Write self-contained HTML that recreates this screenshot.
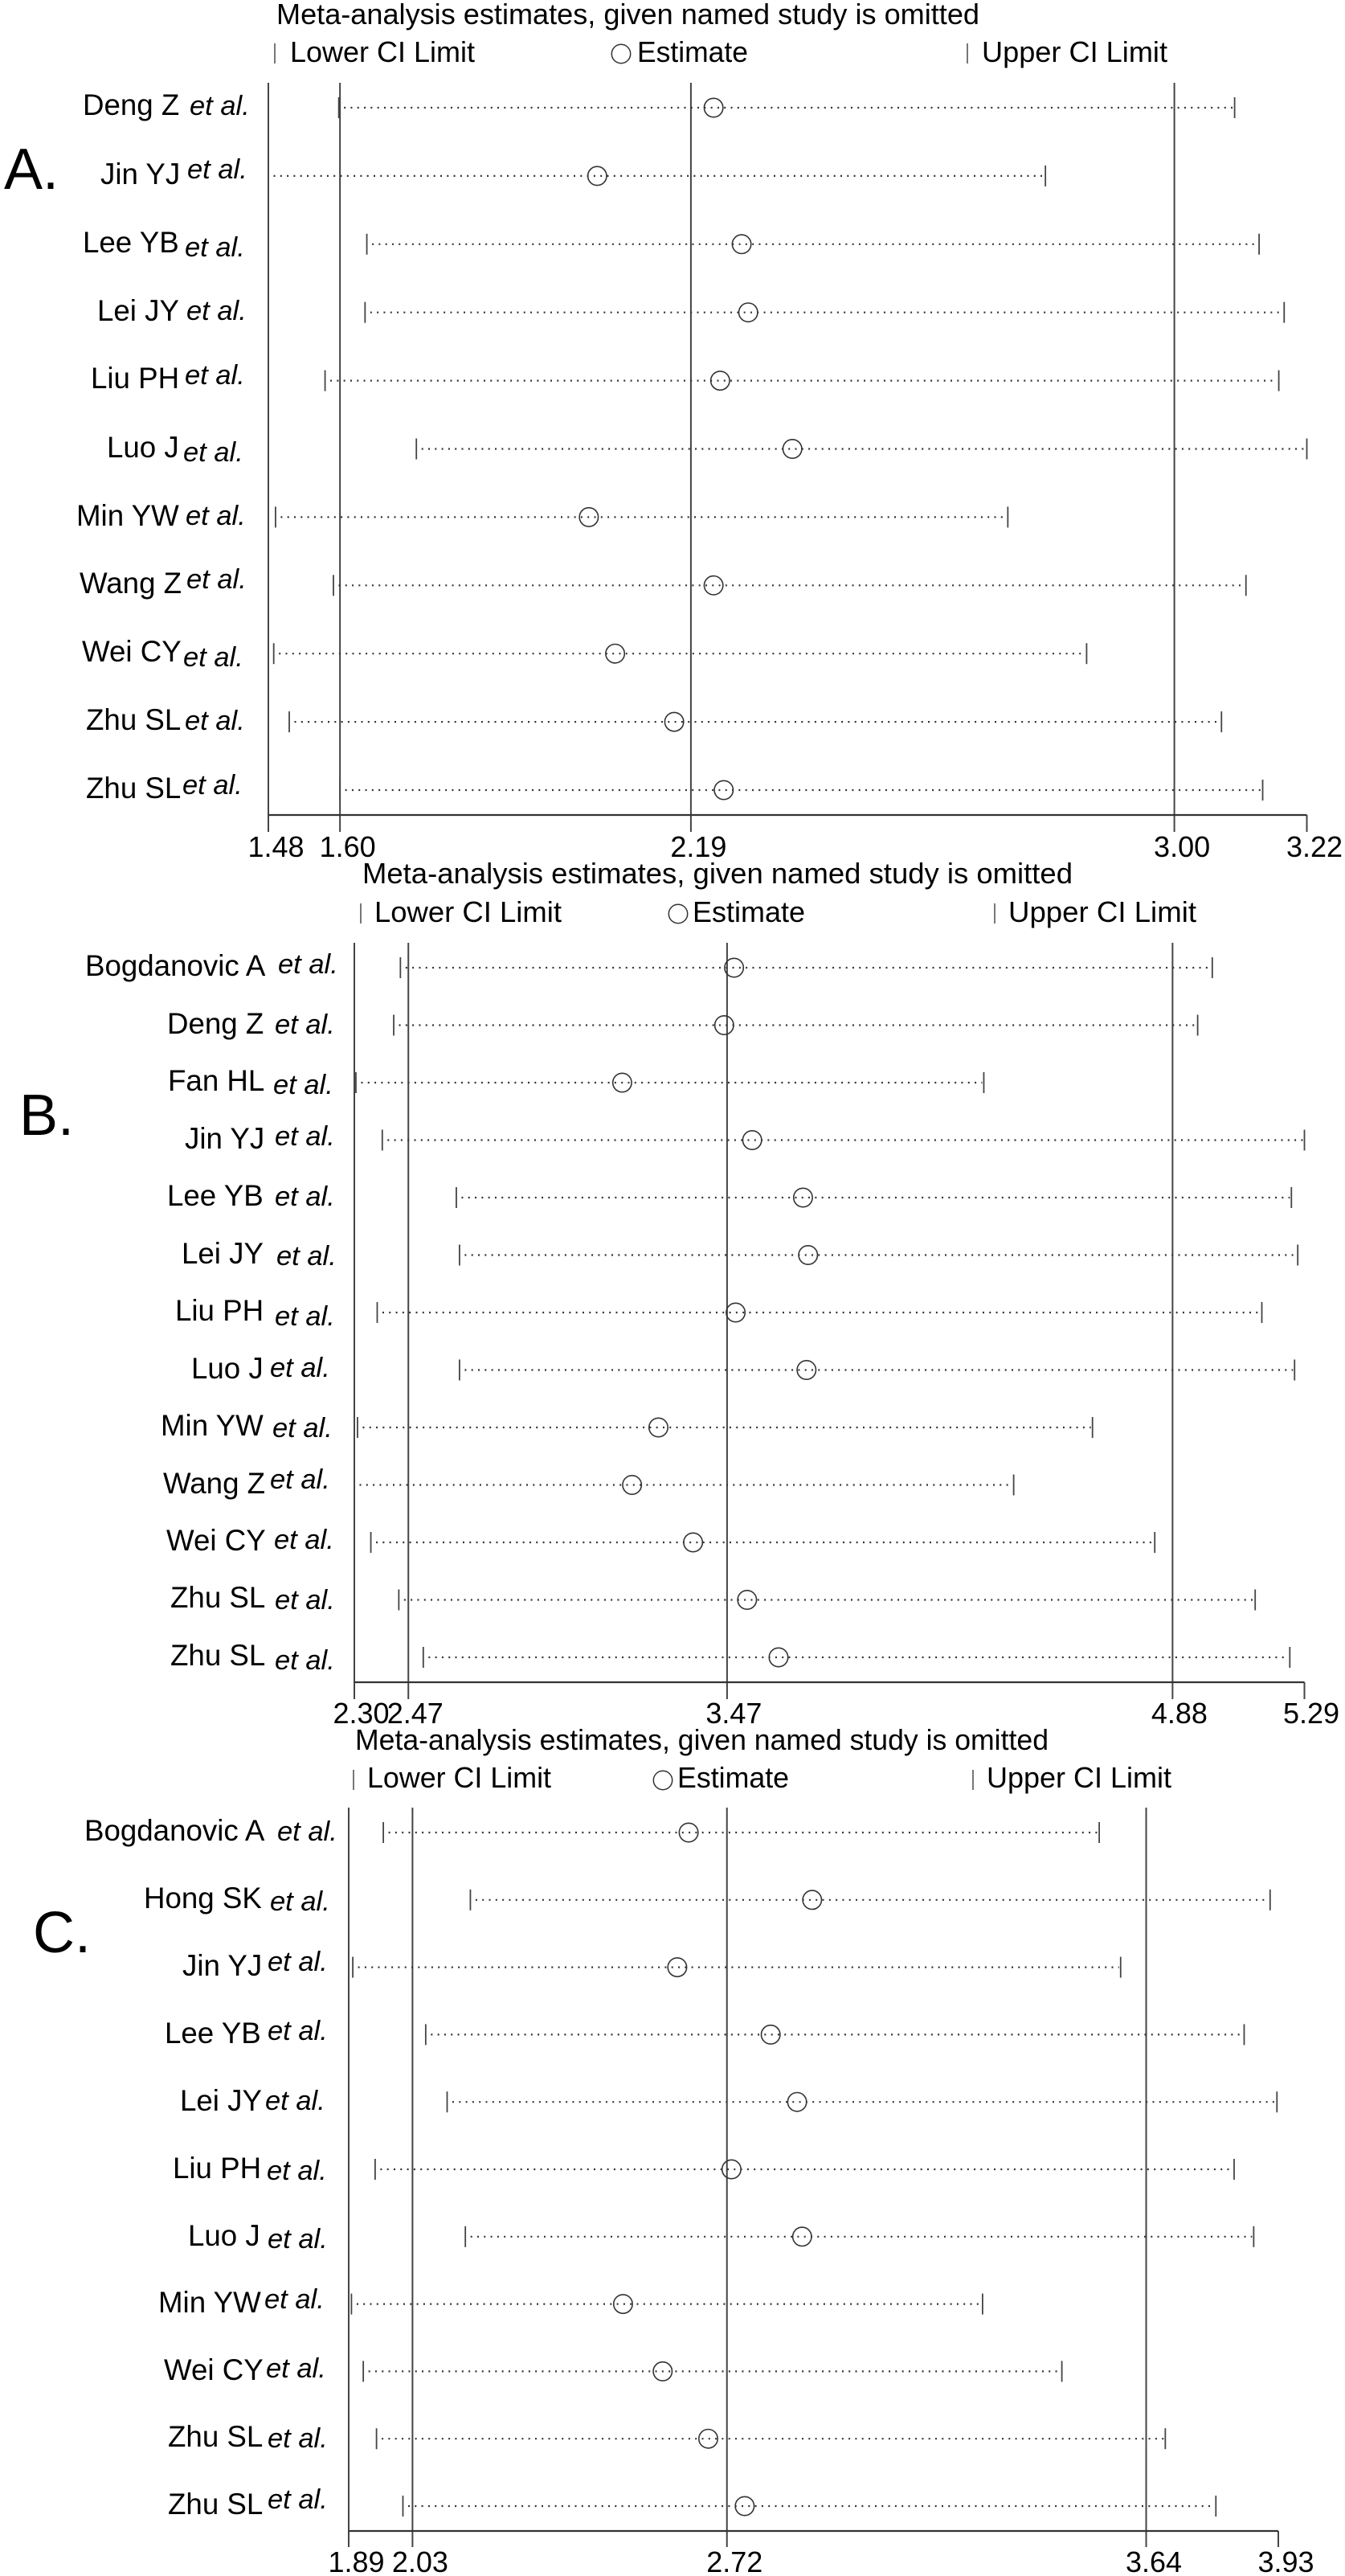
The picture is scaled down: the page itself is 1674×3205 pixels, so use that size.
<!DOCTYPE html>
<html lang="en">
<head>
<meta charset="utf-8">
<title>Meta-analysis sensitivity plots</title>
<style>
html,body{margin:0;padding:0;background:#fff;}
svg{display:block;}
text{font-family:"Liberation Sans",Arial,sans-serif;fill:#000;}
.n{font-size:36.7px;}
.e{font-size:34.5px;font-style:italic;}
.p{font-size:72px;}
.t{font-size:36px;}
</style>
</head>
<body>
<svg id="chart" xmlns="http://www.w3.org/2000/svg" width="1674" height="3205" viewBox="0 0 1674 3205">
<rect x="0" y="0" width="1674" height="3205" fill="#fff"/>

<g>
<text class="p" x="5" y="235">A.</text>
<text class="t" x="344" y="30" textLength="875" lengthAdjust="spacingAndGlyphs">Meta-analysis estimates, given named study is omitted</text>
<text class="t" x="361" y="77" textLength="230" lengthAdjust="spacingAndGlyphs">Lower CI Limit</text>
<text class="t" x="793" y="77" textLength="138" lengthAdjust="spacingAndGlyphs">Estimate</text>
<text class="t" x="1222" y="77" textLength="231" lengthAdjust="spacingAndGlyphs">Upper CI Limit</text>
<text class="n" x="103" y="143">Deng Z</text><text class="e" x="236" y="143">et al.</text>
<text class="n" x="125" y="229">Jin YJ</text><text class="e" x="233" y="222">et al.</text>
<text class="n" x="103" y="314">Lee YB</text><text class="e" x="230" y="319">et al.</text>
<text class="n" x="121" y="399">Lei JY</text><text class="e" x="232" y="398">et al.</text>
<text class="n" x="113" y="483">Liu PH</text><text class="e" x="230" y="478">et al.</text>
<text class="n" x="133" y="569">Luo J</text><text class="e" x="228" y="574">et al.</text>
<text class="n" x="95" y="654">Min YW</text><text class="e" x="231" y="653">et al.</text>
<text class="n" x="99" y="738">Wang Z</text><text class="e" x="232" y="732">et al.</text>
<text class="n" x="102" y="823">Wei CY</text><text class="e" x="228" y="829">et al.</text>
<text class="n" x="107" y="908">Zhu SL</text><text class="e" x="230" y="908">et al.</text>
<text class="n" x="107" y="993">Zhu SL</text><text class="e" x="227" y="988">et al.</text>
</g>

<g>
<text class="p" x="24" y="1412">B.</text>
<text class="t" x="451" y="1099" textLength="884" lengthAdjust="spacingAndGlyphs">Meta-analysis estimates, given named study is omitted</text>
<text class="t" x="466" y="1147" textLength="233" lengthAdjust="spacingAndGlyphs">Lower CI Limit</text>
<text class="t" x="862" y="1147" textLength="140" lengthAdjust="spacingAndGlyphs">Estimate</text>
<text class="t" x="1255" y="1147" textLength="234" lengthAdjust="spacingAndGlyphs">Upper CI Limit</text>
<text class="n" x="106" y="1214">Bogdanovic A</text><text class="e" x="346" y="1211">et al.</text>
<text class="n" x="208" y="1286">Deng Z</text><text class="e" x="342" y="1286">et al.</text>
<text class="n" x="209" y="1357">Fan HL</text><text class="e" x="340" y="1361">et al.</text>
<text class="n" x="230" y="1429">Jin YJ</text><text class="e" x="342" y="1425">et al.</text>
<text class="n" x="208" y="1500">Lee YB</text><text class="e" x="342" y="1500">et al.</text>
<text class="n" x="226" y="1572">Lei JY</text><text class="e" x="344" y="1574">et al.</text>
<text class="n" x="218" y="1643">Liu PH</text><text class="e" x="342" y="1649">et al.</text>
<text class="n" x="238" y="1715">Luo J</text><text class="e" x="336" y="1713">et al.</text>
<text class="n" x="200" y="1786">Min YW</text><text class="e" x="339" y="1788">et al.</text>
<text class="n" x="203" y="1858">Wang Z</text><text class="e" x="336" y="1852">et al.</text>
<text class="n" x="207" y="1929">Wei CY</text><text class="e" x="341" y="1927">et al.</text>
<text class="n" x="212" y="2000">Zhu SL</text><text class="e" x="342" y="2002">et al.</text>
<text class="n" x="212" y="2072">Zhu SL</text><text class="e" x="342" y="2077">et al.</text>
</g>

<g>
<text class="p" x="41" y="2429">C.</text>
<text class="t" x="442" y="2177" textLength="863" lengthAdjust="spacingAndGlyphs">Meta-analysis estimates, given named study is omitted</text>
<text class="t" x="457" y="2224" textLength="229" lengthAdjust="spacingAndGlyphs">Lower CI Limit</text>
<text class="t" x="843" y="2224" textLength="139" lengthAdjust="spacingAndGlyphs">Estimate</text>
<text class="t" x="1228" y="2224" textLength="230" lengthAdjust="spacingAndGlyphs">Upper CI Limit</text>
<text class="n" x="105" y="2290">Bogdanovic A</text><text class="e" x="345" y="2290">et al.</text>
<text class="n" x="179" y="2374">Hong SK</text><text class="e" x="336" y="2377">et al.</text>
<text class="n" x="227" y="2458">Jin YJ</text><text class="e" x="333" y="2452">et al.</text>
<text class="n" x="205" y="2542">Lee YB</text><text class="e" x="333" y="2538">et al.</text>
<text class="n" x="224" y="2626">Lei JY</text><text class="e" x="330" y="2625">et al.</text>
<text class="n" x="215" y="2710">Liu PH</text><text class="e" x="332" y="2712">et al.</text>
<text class="n" x="234" y="2794">Luo J</text><text class="e" x="333" y="2797">et al.</text>
<text class="n" x="197" y="2877">Min YW</text><text class="e" x="329" y="2872">et al.</text>
<text class="n" x="204" y="2961">Wei CY</text><text class="e" x="331" y="2958">et al.</text>
<text class="n" x="209" y="3044">Zhu SL</text><text class="e" x="333" y="3045">et al.</text>
<text class="n" x="209" y="3128">Zhu SL</text><text class="e" x="333" y="3121">et al.</text>
</g>
</svg>

<script>
// Panel A data
var lowerA = [1.598, 1.480, 1.645, 1.642, 1.575, 1.728, 1.492, 1.589, 1.489, 1.515, 1.600];
var estimateA = [2.226, 2.031, 2.273, 2.284, 2.237, 2.358, 2.017, 2.226, 2.061, 2.160, 2.243];
var upperA = [3.099, 2.782, 3.140, 3.182, 3.173, 3.220, 2.719, 3.118, 2.851, 3.077, 3.146];
var ticksA = [1.48, 1.60, 2.188, 2.998, 3.22];
var tickLabelsA = ['1.48', '1.60', '2.19', '3.00', '3.22'];

// Panel B data
var lowerB = [2.445, 2.424, 2.305, 2.388, 2.621, 2.631, 2.372, 2.631, 2.310, 2.300, 2.352, 2.440, 2.517];
var estimateB = [3.495, 3.464, 3.143, 3.552, 3.712, 3.728, 3.500, 3.723, 3.257, 3.174, 3.366, 3.536, 3.635];
var upperB = [5.000, 4.954, 4.281, 5.290, 5.249, 5.269, 5.156, 5.259, 4.623, 4.375, 4.819, 5.135, 5.244];
var ticksB = [2.30, 2.47, 3.473, 4.875, 5.29];
var tickLabelsB = ['2.30', '2.47', '3.47', '4.88', '5.29'];

// Panel C data
var lowerC = [1.966, 2.157, 1.899, 2.059, 2.106, 1.948, 2.146, 1.896, 1.922, 1.951, 2.009];
var estimateC = [2.636, 2.907, 2.611, 2.816, 2.874, 2.730, 2.885, 2.492, 2.579, 2.679, 2.759];
var upperC = [3.537, 3.912, 3.584, 3.855, 3.927, 3.833, 3.876, 3.281, 3.455, 3.682, 3.793];
var ticksC = [1.89, 2.03, 2.72, 3.64, 3.93];
var tickLabelsC = ['1.89', '2.03', '2.72', '3.64', '3.93'];

var NS = 'http://www.w3.org/2000/svg';
var svg = document.getElementById('chart');
var INK = '#333';

function mk(parent, tag, attrs) {
  var el = document.createElementNS(NS, tag);
  for (var k in attrs) el.setAttribute(k, attrs[k]);
  parent.appendChild(el);
  return el;
}

function drawPanel(p) {
  var span = p.ticks[p.ticks.length - 1] - p.ticks[0];
  var xScale = function (v) { return p.xLeft + (v - p.ticks[0]) * (p.xRight - p.xLeft) / span; };
  var yScale = function (i) { return p.rowTop + i * p.rowStep; };

  var g = mk(svg, 'g', {});
  
  

  // legend glyphs
  var lt = mk(g, 'line', {x1: p.legend[0], x2: p.legend[0], y1: p.legendY - 12, y2: p.legendY + 13, stroke: '#555', 'stroke-width': 1.6});
  
  
  var lc = mk(g, 'circle', {cx: p.legend[1], cy: p.legendY + 1, r: 11.7, fill: 'none', stroke: INK, 'stroke-width': 1.5});
  
  
  var lu = mk(g, 'line', {x1: p.legend[2], x2: p.legend[2], y1: p.legendY - 12, y2: p.legendY + 13, stroke: '#555', 'stroke-width': 1.6});
  
  

  // vertical reference lines / axis ticks
  p.ticks.forEach(function (t, i) {
    var x = xScale(t);
    var isOuterRight = i === p.ticks.length - 1;
    var line = mk(g, 'line', {x1: x, x2: x, y1: isOuterRight ? p.axisY : p.lineTop, y2: p.tickBottom, stroke: '#444', 'stroke-width': 2});
    
    
    var label = mk(g, 'text', {x: x + p.labelOffset, y: p.tickBaseline, 'text-anchor': 'middle', 'font-size': 36});
    label.textContent = p.tickLabels[i];
    
    
  });

  // horizontal axis
  var axis = mk(g, 'line', {x1: p.xLeft, x2: p.xRight, y1: p.axisY, y2: p.axisY, stroke: '#333', 'stroke-width': 2.2});
  
  

  // study rows
  p.estimate.forEach(function (est, i) {
    var y = yScale(i);
    var xl = xScale(p.lower[i]);
    var xe = xScale(est);
    var xu = xScale(p.upper[i]);
    var ci = mk(g, 'line', {x1: xl + 6.5, x2: xu - 2, y1: y, y2: y, stroke: '#333', 'stroke-width': 2.2, 'stroke-dasharray': '2 6.3'});
    
    
    var lo = mk(g, 'line', {x1: xl, x2: xl, y1: y - 13, y2: y + 13, stroke: '#444', 'stroke-width': 1.8});
    
    
    var up = mk(g, 'line', {x1: xu, x2: xu, y1: y - 13, y2: y + 13, stroke: '#444', 'stroke-width': 1.8});
    
    
    var c = mk(g, 'circle', {cx: xe, cy: y, r: 11.7, fill: 'none', stroke: INK, 'stroke-width': 1.6});
    
    
  });
}

drawPanel({
  name: 'panel-a-plot', ticks: ticksA, tickLabels: tickLabelsA,
  lower: lowerA, estimate: estimateA, upper: upperA,
  xLeft: 334, xRight: 1626.5, rowTop: 134, rowStep: 84.9,
  lineTop: 103, axisY: 1014, tickBottom: 1035, tickBaseline: 1066, labelOffset: 9.5,
  legend: [342, 773, 1204], legendY: 66
});
drawPanel({
  name: 'panel-b-plot', ticks: ticksB, tickLabels: tickLabelsB,
  lower: lowerB, estimate: estimateB, upper: upperB,
  xLeft: 441, xRight: 1623.5, rowTop: 1204, rowStep: 71.5,
  lineTop: 1173, axisY: 2093, tickBottom: 2114, tickBaseline: 2144, labelOffset: 8.5,
  legend: [449, 844, 1238], legendY: 1136
});
drawPanel({
  name: 'panel-c-plot', ticks: ticksC, tickLabels: tickLabelsC,
  lower: lowerC, estimate: estimateC, upper: upperC,
  xLeft: 434, xRight: 1591, rowTop: 2280, rowStep: 83.8,
  lineTop: 2249, axisY: 3149, tickBottom: 3169, tickBaseline: 3200, labelOffset: 9.5,
  legend: [440, 825, 1211], legendY: 2214
});
</script>
</body>
</html>
